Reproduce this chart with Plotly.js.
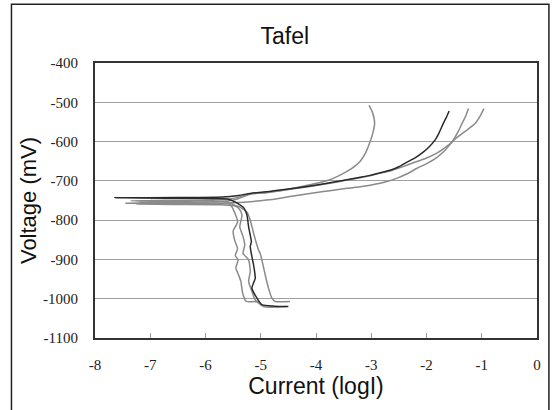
<!DOCTYPE html>
<html>
<head>
<meta charset="utf-8">
<script src="https://cdn.plot.ly/plotly-3.0.1.min.js"></script>
<style>html,body{margin:0;padding:0;background:#fff;}#chart{width:552px;height:410px;}</style>
</head>
<body>
<div id="chart"></div>
<script>
// Curve 1 (gray): cathodic -> Ecorr spike -> anodic branch ending near logI = -3.0
const c1_x = [-5.04,-5.27,-5.33,-5.36,-5.40,-5.45,-5.41,-5.46,-5.42,-5.47,-5.50,-5.42,-5.46,-5.56,-6.3,-7.0,-7.45,-6.9,-7.2,-6.0,-5.5,-5.19,-4.9,-4.65,-4.35,-4.05,-3.75,-3.6,-3.44,-3.3,-3.2,-3.1,-3.02,-2.97,-2.94,-2.95,-2.98,-3.04];
const c1_y = [-1007,-1006,-984,-956,-940,-922,-901,-890,-873,-852,-828,-805,-785,-760,-759,-758,-757,-756,-755,-754,-749,-734,-730,-725,-717,-708,-697,-688,-676,-663,-650,-628,-600,-578,-555,-540,-525,-508];
// Curve 2 (dark): ends near logI = -1.59
const c2_x = [-4.50,-4.75,-4.98,-5.07,-5.16,-5.10,-5.13,-5.16,-5.19,-5.17,-5.22,-5.25,-5.30,-5.45,-5.60,-6.50,-7.64,-6.50,-5.70,-5.40,-5.19,-4.9,-4.65,-4.35,-4.05,-3.75,-3.44,-3.2,-3.02,-2.85,-2.66,-2.5,-2.36,-2.2,-2.06,-1.95,-1.85,-1.77,-1.70,-1.64,-1.59];
const c2_y = [-1020,-1019,-1015,-998,-973,-948,-914,-893,-867,-855,-817,-787,-770,-755,-746,-744,-743,-742.5,-741,-737,-732,-728,-723,-718,-712,-705,-697,-691,-686,-680,-673,-664,-653,-641,-627,-613,-597,-577,-555,-538,-522];
// Curve 3 (gray): ends near logI = -1.24
const c3_x = [-4.53,-4.95,-5.10,-5.16,-5.22,-5.19,-5.22,-5.32,-5.29,-5.32,-5.38,-5.34,-5.40,-5.60,-6.4,-7.35,-6.8,-7.0,-6.1,-5.5,-5.19,-4.9,-4.65,-4.35,-4.05,-3.75,-3.44,-3.2,-3.02,-2.85,-2.66,-2.45,-2.24,-2.02,-1.82,-1.67,-1.54,-1.44,-1.36,-1.29,-1.24];
const c3_y = [-1020,-1020,-1003,-981,-956,-931,-901,-885,-863,-842,-817,-787,-770,-753,-752,-751,-750.5,-749.5,-749,-745,-733,-729,-725,-719,-713,-706,-698,-692,-687,-681,-675,-665,-654,-643,-630,-616,-601,-578,-555,-535,-516];
// Curve 4 (gray): ends near logI = -0.96
const c4_x = [-4.47,-4.74,-4.80,-4.86,-4.92,-4.98,-5.01,-5.04,-5.13,-5.19,-5.25,-5.40,-5.70,-6.6,-7.25,-6.7,-6.9,-5.9,-5.4,-5.19,-4.9,-4.65,-4.35,-4.05,-3.75,-3.44,-3.2,-3.02,-2.75,-2.53,-2.35,-2.17,-1.98,-1.81,-1.65,-1.51,-1.3,-1.12,-1.03,-0.96];
const c4_y = [-1007,-1007,-998,-973,-939,-901,-885,-876,-833,-800,-780,-765,-761,-760,-759,-758.5,-757.5,-757,-755,-753,-749,-744,-737,-731,-725,-719,-715,-711,-703,-693,-682,-668,-655,-640,-620,-597,-574,-554,-535,-516];

const xTicks = [-8,-7,-6,-5,-4,-3,-2,-1,0];
const yTicks = [-1100,-1000,-900,-800,-700,-600,-500,-400];

const gray = '#8a8a8a', dark = '#2a2a2a';
const mk = (x,y,c) => ({x:x, y:y, type:'scatter', mode:'lines', line:{color:c, width:1.5, shape:'spline', smoothing:0.6}, hoverinfo:'skip', showlegend:false});
const data = [mk(c1_x,c1_y,gray), mk(c3_x,c3_y,gray), mk(c4_x,c4_y,gray), mk(c2_x,c2_y,dark)];

const tickFont = {family:'Liberation Serif, Times New Roman, serif', size:15, color:'#222'};
const layout = {
  width:552, height:410,
  margin:{l:95, r:15, t:63, b:72, autoexpand:false},
  paper_bgcolor:'#fff', plot_bgcolor:'#fff',
  title:{text:'Tafel', font:{family:'Liberation Sans, Arial, sans-serif', size:23, color:'#111'}, x:0.516, xref:'container', y:0.913, yref:'container', yanchor:'middle', xanchor:'center'},
  xaxis:{range:[-8,0], tickvals:xTicks, ticktext:xTicks.map(String), showgrid:false, zeroline:false,
    ticks:'inside', ticklen:5, tickcolor:'#999', tickwidth:1,
    showline:true, mirror:true, linecolor:'#333', linewidth:2,
    tickfont:tickFont, ticklabelstandoff:12,
    title:{text:'Current (logI)', font:{family:'Liberation Sans, Arial, sans-serif', size:23, color:'#111'}, standoff:2}},
  yaxis:{range:[-1100,-400], tickvals:yTicks, ticktext:yTicks.map(String), showgrid:true, gridcolor:'#a0a0a0', gridwidth:1, zeroline:false,
    ticks:'', showline:true, mirror:true, linecolor:'#333', linewidth:2,
    tickfont:tickFont, ticklabelstandoff:12,
    title:{text:'Voltage (mV)', font:{family:'Liberation Sans, Arial, sans-serif', size:22, color:'#111'}, standoff:0}},
  shapes:[{type:'rect', xref:'paper', yref:'paper', x0:-0.189, x1:1.027, y0:-0.3, y1:1.214, line:{color:'#222', width:1.5}, fillcolor:'rgba(0,0,0,0)', layer:'below'}]
};
Plotly.newPlot('chart', data, layout, {staticPlot:true, displayModeBar:false});
</script>
</body>
</html>
